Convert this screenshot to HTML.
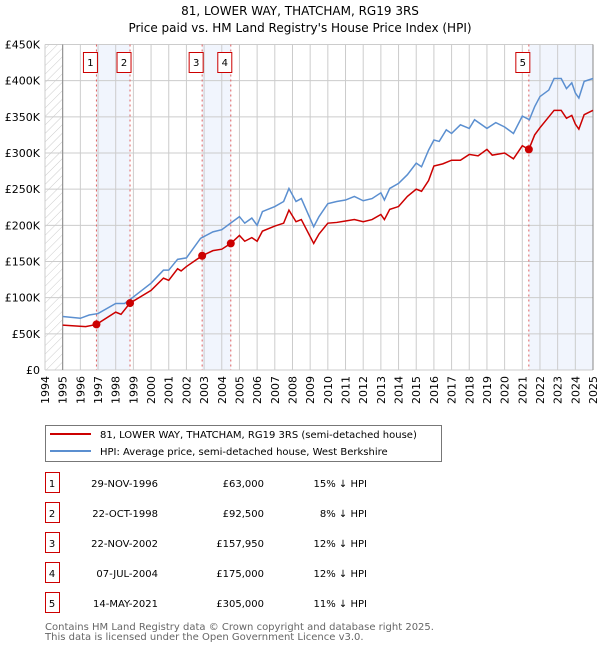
<!DOCTYPE html>
<html><head><meta charset="utf-8"><style>
body{margin:0;background:#fff;font-family:"DejaVu Sans","Liberation Sans",sans-serif;}
svg text{font-family:"DejaVu Sans","Liberation Sans",sans-serif;}
</style></head><body>
<svg id="c" width="600" height="650" viewBox="0 0 600 650" xmlns="http://www.w3.org/2000/svg">
<defs><pattern id="hatch" width="6" height="6" patternUnits="userSpaceOnUse" patternTransform="rotate(45)"><line x1="0" y1="0" x2="0" y2="6" stroke="#ccc" stroke-width="1"/></pattern></defs>
<text x="300" y="15" text-anchor="middle" font-size="12">81, LOWER WAY, THATCHAM, RG19 3RS</text>
<text x="300" y="32" text-anchor="middle" font-size="12">Price paid vs. HM Land Registry's House Price Index (HPI)</text>
<g id="plot"></g>
<g>
<rect x="45.5" y="425.5" width="396" height="36" fill="#fff" stroke="#777"/>
<line x1="50" y1="434" x2="91" y2="434" stroke="#cc0000" stroke-width="2"/>
<text x="100" y="438" font-size="10">81, LOWER WAY, THATCHAM, RG19 3RS (semi-detached house)</text>
<line x1="50" y1="451" x2="91" y2="451" stroke="#5b8fd0" stroke-width="2"/>
<text x="100" y="455" font-size="10">HPI: Average price, semi-detached house, West Berkshire</text>
</g>
<g id="table" font-size="10"></g>
<text x="45" y="630" font-size="10" fill="#666">Contains HM Land Registry data © Crown copyright and database right 2025.</text>
<text x="45" y="640" font-size="10" fill="#666">This data is licensed under the Open Government Licence v3.0.</text>
</svg>
<script>
const yTicks=[0,50,100,150,200,250,300,350,400,450];
const yTickLabels=["£0","£50K","£100K","£150K","£200K","£250K","£300K","£350K","£400K","£450K"];
const years=[1994,1995,1996,1997,1998,1999,2000,2001,2002,2003,2004,2005,2006,2007,2008,2009,2010,2011,2012,2013,2014,2015,2016,2017,2018,2019,2020,2021,2022,2023,2024,2025];
const hpiT=[1995,1996,1996.5,1997,1998,1998.5,1999,2000,2000.7,2001,2001.5,2002,2002.8,2003.5,2004,2004.5,2005,2005.3,2005.7,2006,2006.3,2007,2007.5,2007.8,2008.2,2008.5,2009.2,2009.5,2010,2010.5,2011,2011.5,2012,2012.5,2013,2013.2,2013.5,2014,2014.5,2015,2015.3,2015.7,2016,2016.3,2016.7,2017,2017.5,2018,2018.3,2019,2019.5,2020,2020.5,2021,2021.4,2021.7,2022,2022.5,2022.8,2023.2,2023.5,2023.8,2024,2024.2,2024.5,2025];
const hpiV=[74,71.5,76,78,92,92,101,120,138,138,153,155,182,191,194,203,212,203,210,200,219,226,233,251,233,237,198,212,230,233,235,240,234,237,245,235,251,258,270,286,281,304,318,316,332,327,339,334,346,334,342,336,327,351,346,364,378,387,403,403,389,397,383,376,399,403];
const ppT=[1995,1996.3,1996.91,1998,1998.3,1998.81,2000,2000.7,2001,2001.5,2001.7,2002,2002.89,2003.5,2004,2004.51,2005,2005.3,2005.7,2006,2006.3,2007,2007.5,2007.8,2008.2,2008.5,2009.2,2009.5,2010,2010.5,2011,2011.5,2012,2012.5,2013,2013.2,2013.5,2014,2014.5,2015,2015.3,2015.7,2016,2016.5,2017,2017.5,2018,2018.5,2019,2019.3,2020,2020.5,2021,2021.37,2021.7,2022,2022.8,2023.2,2023.5,2023.8,2024,2024.2,2024.5,2025];
const ppV=[62,60,63,80,77,92.5,110,127,124,140,137,143,158,165,167,175,186,178,183,178,192,199,203,221,205,208,175,188,203,204,206,208,205,208,215,208,222,226,240,250,247,262,282,285,290,290,298,296,305,297,300,292,310,305,325,335,359,359,348,352,340,333,353,359];
const saleT=[1996.91,1998.81,2002.89,2004.51,2021.37];
const saleV=[63,92.5,157.95,175,305];
const saleDates=["29-NOV-1996","22-OCT-1998","22-NOV-2002","07-JUL-2004","14-MAY-2021"];
const salePrices=["£63,000","£92,500","£157,950","£175,000","£305,000"];
const saleDiff=["15% ↓ HPI","8% ↓ HPI","12% ↓ HPI","12% ↓ HPI","11% ↓ HPI"];

const X0=45,X1=593,Y0=370,Y1=44.5;
const xs=t=>X0+(t-1994)/31*(X1-X0);
const ys=v=>Y0-v/450*(Y0-Y1);
const NS="http://www.w3.org/2000/svg";
const plot=document.getElementById('plot');
function mk(tag,at,parent){const e=document.createElementNS(NS,tag);for(const k in at)e.setAttribute(k,at[k]);(parent||plot).appendChild(e);return e;}
let r=mk('rect',{x:X0,y:Y1,width:xs(1995)-X0,height:Y0-Y1,fill:'url(#hatch)'});


[[0,1],[2,3]].forEach(p=>{const s=mk('rect',{x:xs(saleT[p[0]]),y:Y1,width:xs(saleT[p[1]])-xs(saleT[p[0]]),height:Y0-Y1,fill:'#eef3fc',opacity:0.8});

});
let s5=mk('rect',{x:xs(saleT[4]),y:Y1,width:X1-xs(saleT[4]),height:Y0-Y1,fill:'#eef3fc',opacity:0.8});


yTicks.forEach((v,i)=>{const l=mk('line',{x1:X0,x2:X1,y1:ys(v),y2:ys(v),stroke:'#ccc'});


const t=mk('text',{x:40,y:ys(v)+4,'text-anchor':'end','font-size':11});t.textContent=yTickLabels[i];

});
years.forEach(y=>{const l=mk('line',{x1:xs(y),x2:xs(y),y1:Y1,y2:Y0,stroke:'#ccc'});


const t=mk('text',{x:0,y:0,'font-size':11,'text-anchor':'end',transform:`translate(${xs(y)+4},${Y0+6}) rotate(-90)`});t.textContent=y;

});
let ax=mk('line',{x1:xs(1995),x2:xs(1995),y1:Y1,y2:Y0,stroke:'#888'});


let ax2=mk('line',{x1:X1,x2:X1,y1:Y1,y2:Y0,stroke:'#888'});


saleT.forEach((t,i)=>{const l=mk('line',{x1:xs(t),x2:xs(t),y1:Y1,y2:Y0,stroke:'#e06060','stroke-dasharray':'2,3'});


const b=mk('rect',{x:xs(t)-13,y:52.5,width:14,height:20,fill:'#fff',stroke:'#cc0000'});


const tx=mk('text',{x:xs(t)-6,y:66,'text-anchor':'middle','font-size':10});tx.textContent=i+1;

});
let hp=mk('polyline',{points:hpiT.map((t,i)=>xs(t)+','+ys(hpiV[i])).join(' '),fill:'none',stroke:'#5b8fd0','stroke-width':1.5});


let pp=mk('polyline',{points:ppT.map((t,i)=>xs(t)+','+ys(ppV[i])).join(' '),fill:'none',stroke:'#cc0000','stroke-width':1.5});


saleT.forEach((t,i)=>{const c=mk('circle',{cx:xs(t),cy:ys(saleV[i]),r:4,fill:'#cc0000'});

});
const tb=document.getElementById('table');
saleT.forEach((t,i)=>{const y=483+i*30;
const b=mk('rect',{x:45.5,y:y-10.5,width:14,height:20,fill:'#fff',stroke:'#cc0000'},tb);


const cells=[[52,i+1,'middle'],[158,saleDates[i],'end'],[264,salePrices[i],'end'],[367,saleDiff[i],'end']];
cells.forEach(c=>{const e=mk('text',{x:c[0],y:y+4,'text-anchor':c[2]},tb);e.textContent=c[1];

});});
</script>
</body></html>
